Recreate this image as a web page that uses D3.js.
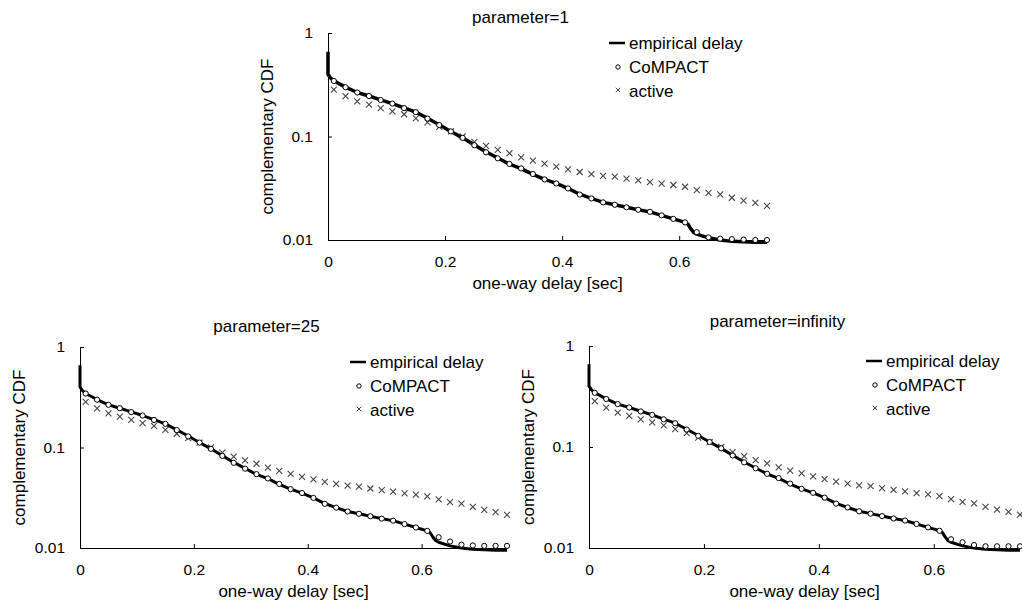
<html>
<head>
<title>complementary CDF</title>
<script type="text/javascript" src="https://cdn.jsdelivr.net/npm/d3@7/dist/d3.min.js"></script>
<style type="text/css">
body { margin:0px; background:white; }
text { font-family: "Liberation Sans", Arial, Helvetica, sans-serif; }
</style>
</head>
<body>
<script>

// sample points (one-way delay [sec]) for the markers
var sampleX = [0.01,0.03,0.05,0.07,0.09,0.11,0.13,0.15,0.17,0.19,
               0.21,0.23,0.25,0.27,0.29,0.31,0.33,0.35,0.37,0.39,
               0.41,0.43,0.45,0.47,0.49,0.51,0.53,0.55,0.57,0.59,
               0.61,0.63,0.65,0.67,0.69,0.71,0.73,0.75];

var compact1 = [0.344,0.299,0.266,0.246,0.225,0.208,0.188,0.172,0.149,0.129,
                0.112,0.097,0.0824,0.0704,0.0616,0.0543,0.0492,0.0434,0.0385,0.0352,
                0.0315,0.0275,0.0252,0.0231,0.0219,0.0207,0.0196,0.0187,0.0173,0.0160,
                0.0148,0.0119,0.0106,0.0103,0.0102,0.0101,0.0100,0.0100];

var compact25 = [0.344,0.299,0.266,0.246,0.225,0.208,0.188,0.172,0.149,0.129,
                 0.112,0.097,0.0824,0.0704,0.0616,0.0543,0.0492,0.0434,0.0385,0.0352,
                 0.0315,0.0275,0.0252,0.0231,0.0219,0.0207,0.0196,0.0187,0.0173,0.0160,
                 0.0148,0.0128,0.0116,0.0108,0.0106,0.0105,0.0105,0.0105];

var compactInf = [0.344,0.299,0.266,0.246,0.225,0.208,0.188,0.172,0.149,0.129,
                  0.112,0.097,0.0824,0.0704,0.0616,0.0543,0.0492,0.0434,0.0385,0.0352,
                  0.0315,0.0275,0.0252,0.0231,0.0219,0.0207,0.0196,0.0187,0.0173,0.0160,
                  0.0148,0.0122,0.0114,0.0107,0.0104,0.0104,0.0104,0.0104];

var active = [0.284,0.245,0.219,0.203,0.188,0.175,0.164,0.150,0.137,0.124,
              0.112,0.100,0.0889,0.0812,0.0743,0.0689,0.0630,0.0585,0.0547,0.0511,
              0.0481,0.0454,0.0434,0.0417,0.0409,0.0391,0.0377,0.0363,0.0350,0.0340,
              0.0327,0.0304,0.0286,0.0276,0.0256,0.0240,0.0228,0.0214];

// empirical delay curve
var empX = [0,0,0.004,0.01,0.03,0.05,0.07,0.09,0.11,0.13,0.15,0.17,0.19,0.21,0.23,0.25,0.27,0.29,
            0.31,0.33,0.35,0.37,0.39,0.41,0.43,0.45,0.47,0.49,0.51,0.53,0.55,0.57,0.59,0.61,
            0.615,0.62,0.625,0.63,0.65,0.67,0.69,0.71,0.73,0.75];
var empY = [0.66,0.40,0.37,0.345,0.30,0.266,0.246,0.226,0.208,0.189,0.172,0.150,0.130,0.112,0.097,0.083,0.071,0.062,
            0.054,0.049,0.043,0.0385,0.0352,0.0315,0.0277,0.0252,0.0231,0.0219,0.0207,0.0196,0.0187,0.0173,0.0160,0.0148,
            0.0142,0.0128,0.0118,0.0114,0.0105,0.0100,0.0097,0.0096,0.0095,0.0095];

var yTicks = [1,0.1,0.01],
    xTicks = [0,0.2,0.4,0.6];
var legendNames = ["empirical delay","CoMPACT","active"];

var panels = [
  {title:"parameter=1", compact:compact1, left:328, right:767, top:33, bottom:240, titleY:23, lw:3.5, legX:609, legY:43},
  {title:"parameter=25", compact:compact25, left:80, right:507, top:347, bottom:548, titleY:332, lw:3, legX:350, legY:362},
  {title:"parameter=infinity", compact:compactInf, left:589, right:1020, top:346, bottom:548, titleY:327, lw:3, legX:866, legY:361}
];

var svg = d3.select("body").append("svg").attr("width",1022).attr("height",610);
svg.append("rect").attr("width",1022).attr("height",610).attr("fill","white");

var crossPath = function(s){ return "M"+(-s)+","+(-s)+"L"+s+","+s+"M"+(-s)+","+s+"L"+s+","+(-s); };

panels.forEach(function(p){
  var x = d3.scaleLinear().domain([0,0.75]).range([p.left,p.right]);
  var y = d3.scaleLog().domain([0.01,1]).range([p.bottom,p.top]);
  var g = svg.append("g");

  // axes
  var ya = g.append("g").attr("transform","translate("+p.left+",0)")
    .call(d3.axisLeft(y).tickValues(yTicks).tickFormat(function(d){ return String(d); })
      .tickSize(-4).tickSizeOuter(0).tickPadding(15));
  var xa = g.append("g").attr("transform","translate(0,"+p.bottom+")")
    .call(d3.axisBottom(x).tickValues(xTicks).tickFormat(function(d){ return String(d); })
      .tickSize(-4).tickSizeOuter(0).tickPadding(16));
  [ya,xa].forEach(function(a){
    a.attr("font-family",null).attr("font-size",15.5);
    a.selectAll("path,line").attr("stroke","#000");
    a.selectAll("text").attr("fill","#000");
  });

  // empirical line
  var line = d3.line().x(function(d){ return x(d[0]); }).y(function(d){ return y(d[1]); });
  g.append("path").datum(d3.zip(empX,empY)).attr("d",line)
    .attr("fill","none").attr("stroke","#000").attr("stroke-width",p.lw).attr("stroke-linejoin","round");

  // active crosses
  g.selectAll(null).data(d3.zip(sampleX,active)).enter().append("path")
    .attr("d",crossPath(3)).attr("transform",function(d){ return "translate("+x(d[0])+","+y(d[1])+")"; })
    .attr("stroke","#444").attr("stroke-width",1.1).attr("fill","none");

  // CoMPACT circles
  g.selectAll(null).data(d3.zip(sampleX,p.compact)).enter().append("circle")
    .attr("cx",function(d){ return x(d[0]); }).attr("cy",function(d){ return y(d[1]); })
    .attr("r",2.6).attr("fill","white").attr("stroke","#000").attr("stroke-width",1);

  // labels
  g.append("text").text(p.title).attr("x",(p.left+p.right)/2-27).attr("y",p.titleY)
    .attr("text-anchor","middle").attr("font-size",17);
  g.append("text").text("one-way delay [sec]").attr("x",(p.left+p.right)/2).attr("y",p.bottom+49)
    .attr("text-anchor","middle").attr("font-size",17);
  g.append("text").text("complementary CDF")
    .attr("transform","translate("+(p.left-55)+","+((p.top+p.bottom)/2)+") rotate(-90)")
    .attr("text-anchor","middle").attr("font-size",17);

  // legend
  var leg = g.append("g").attr("transform","translate("+p.legX+","+p.legY+")");
  leg.append("line").attr("x1",0).attr("x2",16).attr("y1",0).attr("y2",0).attr("stroke","#000").attr("stroke-width",2.5);
  leg.append("circle").attr("cx",9).attr("cy",24).attr("r",2.2).attr("fill","white").attr("stroke","#000");
  leg.append("path").attr("d",crossPath(2.2)).attr("transform","translate(9,47)").attr("stroke","#444");
  leg.selectAll(null).data(legendNames).enter().append("text").text(function(d){ return d; })
    .attr("x",20).attr("y",function(d,i){ return i*24+6; }).attr("font-size",17);
});

</script>
</body>
</html>
